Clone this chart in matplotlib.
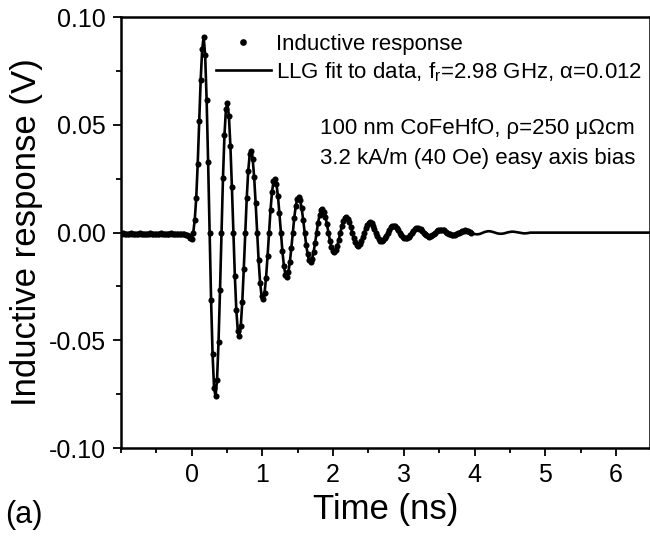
import numpy as np
import matplotlib
matplotlib.use('Agg')
import matplotlib.pyplot as plt
from matplotlib.ticker import MultipleLocator, FixedLocator, FormatStrFormatter

plt.rcParams['font.family'] = ['Liberation Sans', 'DejaVu Sans']
plt.rcParams['mathtext.fontset'] = 'custom'
plt.rcParams['mathtext.rm'] = 'Liberation Sans'
plt.rcParams['axes.unicode_minus'] = False

# sampling clock of the scope trace (ns)
t_start = -1.006
dt = 0.021

# baseline before the field pulse (V)
pre_v = [-0.0005, -0.0007, -0.0004, -0.0006, -0.0008, -0.0005, -0.0006, -0.0004, -0.0007, -0.0006,
         -0.0005, -0.0008, -0.0006, -0.0004, -0.0006, -0.0007, -0.0005, -0.0006, -0.0008, -0.0005,
         -0.0004, -0.0006, -0.0007, -0.0005, -0.0006, -0.0008, -0.0006, -0.0004, -0.0005, -0.0007,
         -0.0006, -0.0005, -0.0007, -0.0006, -0.0004, -0.0006, -0.0008, -0.0006, -0.0005, -0.0007,
         -0.0006, -0.0005, -0.0007, -0.0008, -0.0009, -0.0011, -0.0015, -0.0026]

# ringing after the pulse (V)
ring_v = [-0.0030, 0.0000, 0.0060, 0.0160, 0.0320, 0.0520, 0.0710, 0.0850, 0.0910,
          0.0823, 0.0617, 0.0327, 0.0, -0.0313, -0.0564, -0.0720, -0.0760,
          -0.0684, -0.0509, -0.0268, 0.0, 0.0253, 0.0452, 0.0573, 0.0600,
          0.0541, 0.0403, 0.0213, 0.0, -0.0201, -0.0361, -0.0457, -0.0480,
          -0.0432, -0.0322, -0.0169, 0.0, 0.0160, 0.0286, 0.0363, 0.0380,
          0.0343, 0.0256, 0.0136, 0.0, -0.0129, -0.0232, -0.0295, -0.0310,
          -0.0280, -0.0209, -0.0110, 0.0, 0.0104, 0.0187, 0.0238, 0.0250,
          0.0226, 0.0169, 0.0089, 0.0, -0.0085, -0.0153, -0.0195, -0.0205,
          -0.0185, -0.0138, -0.0073, 0.0, 0.0069, 0.0124, 0.0158, 0.0166,
          0.0150, 0.0112, 0.0059, 0.0, -0.0056, -0.0101, -0.0128, -0.0135,
          -0.0122, -0.0091, -0.0048, 0.0, 0.0045, 0.0081, 0.0103, 0.0108,
          0.0098, 0.0073, 0.0039, 0.0, -0.0037, -0.0067, -0.0085, -0.0090,
          -0.0081, -0.0060, -0.0032, 0.0, 0.0030, 0.0054, 0.0069, 0.0072,
          0.0065, 0.0049, 0.0026, 0.0, -0.0025, -0.0045, -0.0057, -0.0060,
          -0.0054, -0.0040, -0.0021, 0.0, 0.0020, 0.0036, 0.0046, 0.0048,
          0.0043, 0.0033, 0.0017, 0.0, -0.0016, -0.0030, -0.0038, -0.0040,
          -0.0036, -0.0027, -0.0014, 0.0, 0.0013, 0.0024, 0.0030, 0.0032,
          0.0029, 0.0022, 0.0012, 0.0, -0.0011, -0.0020, -0.0025, -0.0027,
          -0.0024, -0.0018, -0.0010, 0.0, 0.0009, 0.0016, 0.0020, 0.0021,
          0.0019, 0.0015, 0.0008, 0.0, -0.0007, -0.0013, -0.0016, -0.0018,
          -0.0016, -0.0012, -0.0007, 0.0, 0.0006, 0.0010, 0.0013, 0.0014,
          0.0013, 0.0010, 0.0005, 0.0, -0.0005, -0.0008, -0.0011, -0.0012,
          -0.0011, -0.0008, -0.0004, 0.0, 0.0004, 0.0007, 0.0009, 0.0010,
          0.0009, 0.0007, 0.0004, 0.0]

# LLG fit continues past the end of the record, then settles to zero
fit_tail_v = [-0.0003, -0.0006, -0.0007, -0.0008, -0.0007, -0.0006, -0.0003, 0.0,
              0.00025, 0.00045, 0.0006, 0.00065, 0.0006, 0.00045, 0.00025, 0.0,
              -0.0002, -0.0004, -0.0005, -0.00055, -0.0005, -0.0004, -0.0002, 0.0,
              0.00017, 0.0003, 0.0004, 0.00045, 0.0004, 0.0003, 0.00017, 0.0,
              -0.00013, -0.00025, -0.0003, -0.00035, -0.0003, -0.00025, -0.00013, 0.0]
fit_end_t = 6.5

x_ticks = [0, 1, 2, 3, 4, 5, 6]

data_v = np.array(pre_v + ring_v)
data_t = t_start + dt * np.arange(len(data_v))
tail_t = data_t[-1] + dt * np.arange(1, len(fit_tail_v) + 1)
fit_t = np.concatenate([data_t, tail_t, [fit_end_t]])
fit_v = np.concatenate([data_v, fit_tail_v, [0.0]])

fig = plt.figure(figsize=(6.5, 5.36), dpi=100)
ax = fig.add_axes([0.186, 0.164, 0.814, 0.804])

ax.plot(data_t, data_v, 'o', color='k', ms=4.4, mew=0, label='Inductive response')
ax.plot(fit_t, fit_v, '-', color='k', lw=1.9,
        label=r'LLG fit to data, f$_\mathregular{r}$=2.98 GHz, α=0.012')

ax.set_xlim(-1.0, 6.48)
ax.set_ylim(-0.10, 0.10)
ax.xaxis.set_major_locator(FixedLocator(x_ticks))
ax.xaxis.set_minor_locator(MultipleLocator(0.5))
ax.yaxis.set_major_locator(MultipleLocator(0.05))
ax.yaxis.set_minor_locator(MultipleLocator(0.025))
ax.yaxis.set_major_formatter(FormatStrFormatter('%.2f'))
ax.tick_params(which='both', direction='out', width=1.3, labelsize=18, top=False, right=False)
ax.tick_params(which='major', length=6, pad=5)
ax.tick_params(which='minor', length=3.5)
for s in ax.spines.values():
    s.set_linewidth(1.8)

ax.set_xlabel('Time (ns)', fontsize=25)
ax.set_ylabel('Inductive response (V)', fontsize=25)

ax.legend(loc='upper left', bbox_to_anchor=(0.180, 0.962), frameon=False, fontsize=16,
          handlelength=2.45, handletextpad=0.25, labelspacing=0.25, borderpad=0,
          borderaxespad=0, numpoints=1, markerscale=1.1)

ax.text(0.376, 0.742, '100 nm CoFeHfO, ρ=250 μΩcm', transform=ax.transAxes,
        fontsize=16, va='center')
ax.text(0.376, 0.673, '3.2 kA/m (40 Oe) easy axis bias', transform=ax.transAxes,
        fontsize=16, va='center')

fig.text(0.008, 0.025, '(a)', fontsize=22)

fig.savefig('out.png', dpi=100)
